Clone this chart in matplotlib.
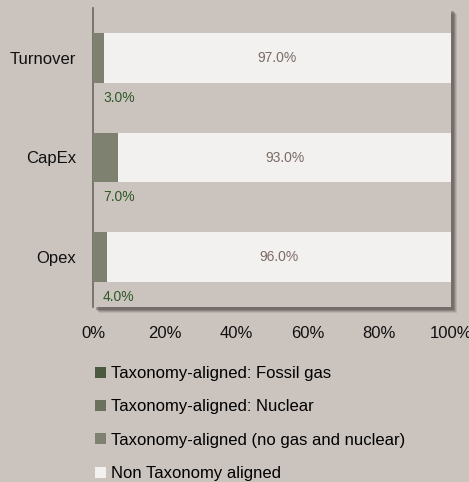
import matplotlib
matplotlib.use('Agg')
import matplotlib.pyplot as plt
from matplotlib.patches import Patch, Rectangle

categories = ['Turnover', 'CapEx', 'Opex']
aligned = [3.0, 7.0, 4.0]
non_aligned = [97.0, 93.0, 96.0]
xticks = [0, 20, 40, 60, 80, 100]
legend_labels = ['Taxonomy-aligned: Fossil gas',
                 'Taxonomy-aligned: Nuclear',
                 'Taxonomy-aligned (no gas and nuclear)',
                 'Non Taxonomy aligned']

bg = '#CBC3BE'
c_gas = '#4B5940'
c_nuc = '#6B705F'
c_al = '#7E8170'
c_non = '#F3F1EF'

plt.rcParams['font.family'] = ['Liberation Sans', 'DejaVu Sans']

W, H = 469, 482
fig = plt.figure(figsize=(W / 100, H / 100), dpi=100, facecolor=bg)

# panel position in pixels
x0, x1, y0, y1 = 93, 451, 8, 307
ax = fig.add_axes([x0 / W, 1 - y1 / H, (x1 - x0) / W, (y1 - y0) / H])
ax.set_facecolor(bg)
ax.set_zorder(2)

# drop shadow behind the panel
for i, a in enumerate([0.12, 0.16, 0.22, 0.28]):
    d = 6 - i
    fig.patches.append(Rectangle(((x0 + d) / W, 1 - (y1 + d) / H),
                                 (x1 - x0) / W, (y1 - y0) / H,
                                 transform=fig.transFigure, facecolor='#3a3330',
                                 alpha=a, edgecolor='none', zorder=0))

y = list(range(len(categories)))
ax.barh(y, aligned, height=0.5, color=c_al, zorder=3)
ax.barh(y, non_aligned, left=aligned, height=0.5, color=c_non, zorder=3)

for i in y:
    ax.text(aligned[i] + non_aligned[i] / 2, i, '%.1f%%' % non_aligned[i],
            ha='center', va='center', fontsize=10, color='#7B6B67', zorder=4)
    ax.text(2.8, i + 0.4, '%.1f%%' % aligned[i], ha='left', va='center',
            fontsize=10, color='#2E5A29', zorder=4)

ax.set_xlim(0, 100)
ax.set_ylim(2.5, -0.5)
ax.set_yticks(y)
ax.set_yticklabels(categories, fontsize=12, color='#111111')
ax.set_xticks(xticks)
ax.set_xticklabels(['%d%%' % v for v in xticks], fontsize=12, color='#111111')
ax.tick_params(axis='both', length=0)
ax.tick_params(axis='x', pad=14)
ax.tick_params(axis='y', pad=12)
for s in ['top', 'right', 'bottom']:
    ax.spines[s].set_visible(False)
ax.spines['left'].set_color('#6b6560')
ax.spines['left'].set_linewidth(1.2)

handles = [Patch(facecolor=c, edgecolor='none') for c in [c_gas, c_nuc, c_al, c_non]]
fig.legend(handles, legend_labels, loc='upper left',
           bbox_to_anchor=(95 / W, 1 - 366 / H), frameon=False, fontsize=12,
           handlelength=0.65, handleheight=0.65, handletextpad=0.3,
           labelspacing=1.1, borderpad=0, borderaxespad=0)

fig.savefig('out.png', dpi=100, facecolor=bg)
